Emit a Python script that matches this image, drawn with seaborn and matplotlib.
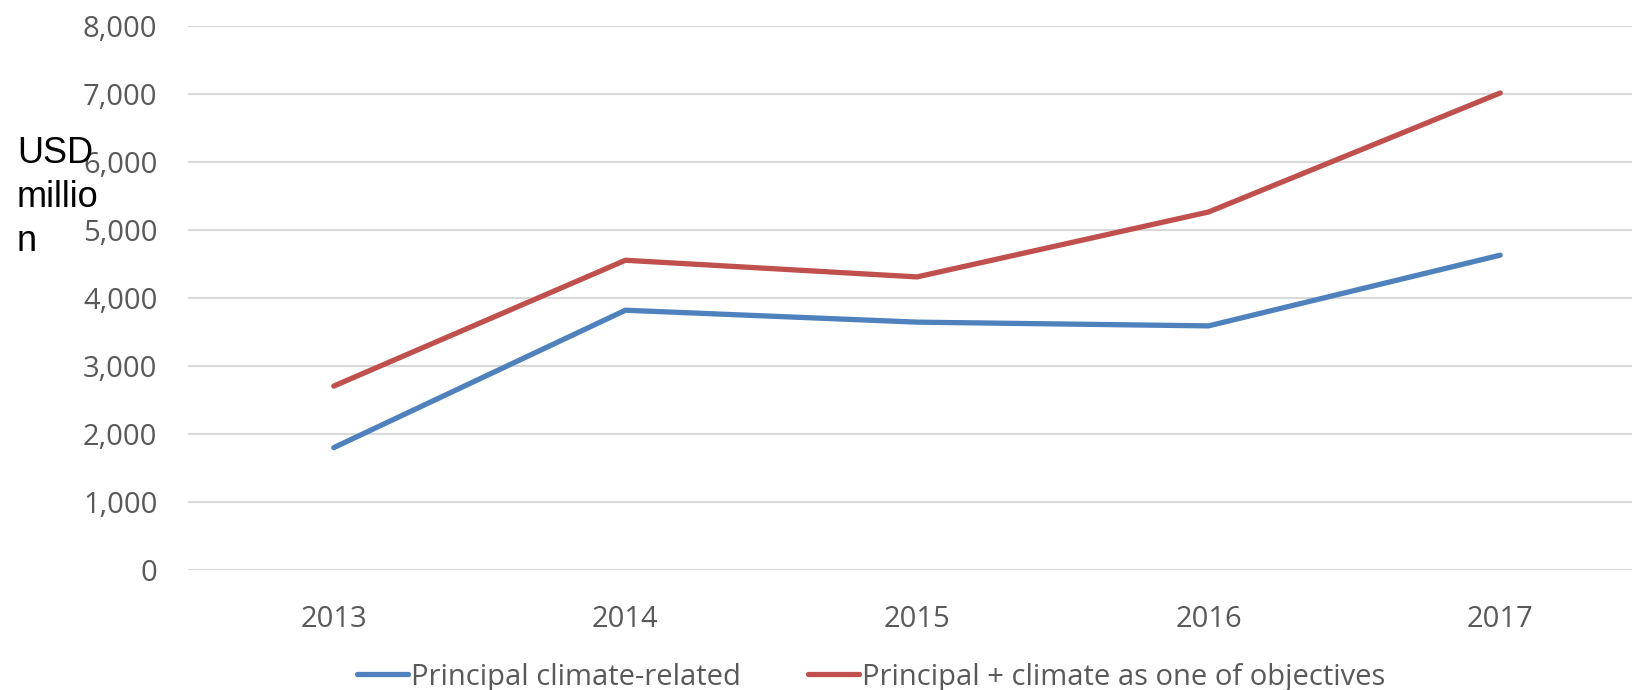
import matplotlib
matplotlib.use("Agg")
import matplotlib.pyplot as plt
import seaborn as sns
import pandas as pd
from matplotlib.ticker import FuncFormatter

# Climate-related development finance, USD million
years = ["2013", "2014", "2015", "2016", "2017"]
principal = [1800, 3820, 3645, 3590, 4630]
principal_plus = [2705, 4555, 4310, 5265, 7015]
series_names = ["Principal climate-related", "Principal + climate as one of objectives"]
series_colors = ["#4F81BD", "#C0504D"]
y_ticks = [0, 1000, 2000, 3000, 4000, 5000, 6000, 7000, 8000]

df = pd.DataFrame({
    "year": years * 2,
    "value": principal + principal_plus,
    "series": [series_names[0]] * len(years) + [series_names[1]] * len(years),
})

sns.set_theme(style="white")
plt.rcParams["font.family"] = ["Open Sans", "DejaVu Sans"]

fig = plt.figure(figsize=(16.32, 6.90), dpi=100)
ax = fig.add_axes([188 / 1632, 1 - 570 / 690, 1458 / 1632, 544 / 690])

sns.lineplot(data=df, x="year", y="value", hue="series", hue_order=series_names,
             palette=series_colors, linewidth=3.8, sort=False, ax=ax,
             solid_capstyle="round", legend=False)

ax.set_xlim(-0.5, len(years) - 0.5)
ax.set_ylim(0, 8000)
ax.set_yticks(y_ticks)
ax.yaxis.set_major_formatter(FuncFormatter(lambda v, p: f"{int(v):,}"))
ax.grid(axis="y", color="#D9D9D9", linewidth=1.5)
ax.grid(axis="x", visible=False)
ax.set_axisbelow(True)
for s in ax.spines.values():
    s.set_visible(False)
ax.tick_params(axis="y", length=0, pad=22, labelsize=21, labelcolor="#595959")
ax.tick_params(axis="x", length=0, pad=25, labelsize=21, labelcolor="#595959")
ax.set_xlabel("")
ax.set_ylabel("")

# y-axis unit label, wrapped over three lines; anchored at the last line's baseline
fig.text(17 / 1632, 1 - 251 / 690, "USD\nmillio\nn", fontsize=26, color="black",
         family=["Liberation Sans", "DejaVu Sans"], ha="left", va="baseline",
         linespacing=1.33)

handles = [plt.Line2D([], [], color=c, linewidth=3.8, solid_capstyle="round") for c in series_colors]
fig.legend(handles, series_names, loc="center", bbox_to_anchor=(0.534, 1 - 677 / 690),
           ncol=2, frameon=False, fontsize=21, labelcolor="#595959",
           handlelength=1.75, handletextpad=0.1, columnspacing=2.3, borderaxespad=0)

fig.savefig("out.png", dpi=100, facecolor="white")
